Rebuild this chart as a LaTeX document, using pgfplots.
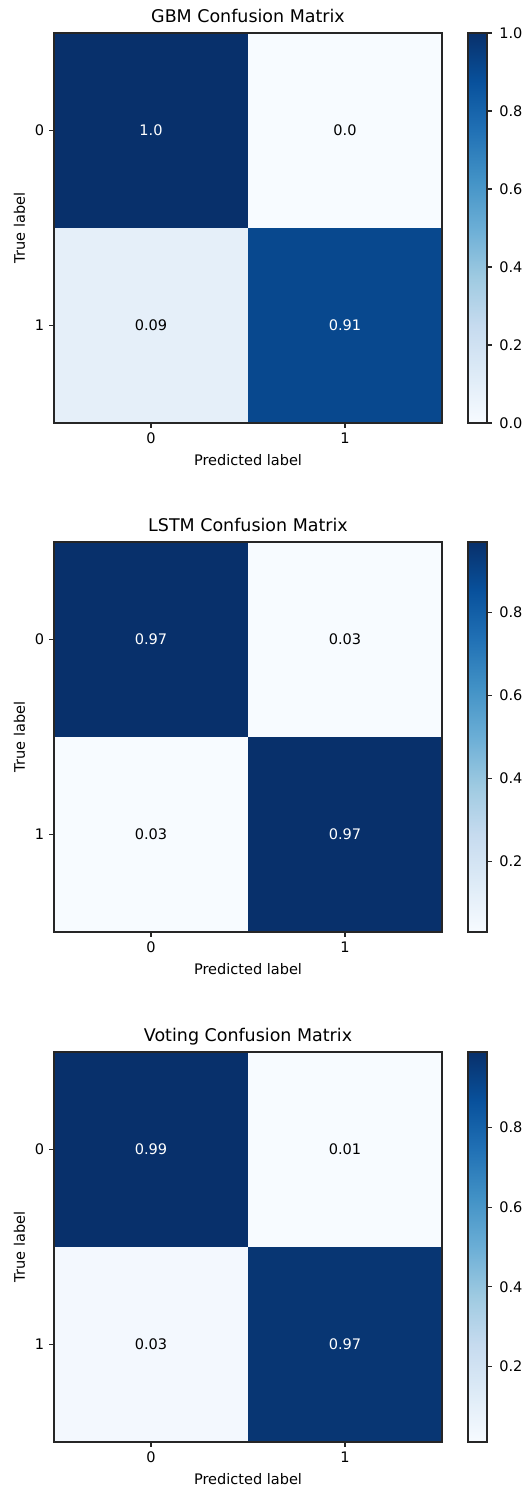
\documentclass[border=0pt]{standalone}
\usepackage{pgfplots}
\pgfplotsset{compat=1.18}
\usepackage{fontspec}
\setmainfont{DejaVu Sans}
\newcommand{\ften}{\fontsize{10.9}{13}\selectfont}
\newcommand{\ftwelve}{\fontsize{13.1}{15.5}\selectfont}
\pgfplotsset{
  colormap={mplblues}{rgb255=(247,251,255) rgb255=(222,235,247) rgb255=(198,219,239) rgb255=(158,202,225) rgb255=(107,174,214) rgb255=(66,146,198) rgb255=(33,113,181) rgb255=(8,81,156) rgb255=(8,48,107)},
  cm/.style={
    scale only axis, width=291pt, height=292.5pt,
    axis on top,
    xmin=-0.5, xmax=1.5, ymin=-0.5, ymax=1.5, y dir=reverse,
    axis line style={line width=0.8pt, black!85},
    xtick={0,1}, ytick={0,1}, xticklabels={0,1}, yticklabels={0,1},
    xtick pos=left, ytick pos=left,
    tick align=outside, major tick length=3.5pt,
    tick style={line width=0.8pt, black!85},
    xticklabel style={font=\ften, anchor=base, inner sep=0pt, yshift=-12pt},
    yticklabel style={font=\ften, anchor=east, inner sep=0pt, xshift=-3.8pt},
    title style={font=\ftwelve, at={(axis description cs:0.5,1)}, anchor=base, yshift=2pt, inner sep=0pt},
    xlabel={Predicted label}, ylabel={True label},
    xlabel style={font=\ften, at={(axis description cs:0.5,-0.109)}, anchor=base, inner sep=0pt},
    ylabel style={font=\ften, at={(axis description cs:-0.0893,0.5)}, anchor=center, inner sep=0pt},
    colormap name=mplblues,
    colorbar,
    colorbar shift/.style={xshift=19.5pt},
    colorbar style={
      at={(parent axis.north east)}, anchor=north west,
      scale only axis, width=14.25pt, height=292.5pt,
      axis on top,
      axis line style={line width=0.8pt, black!85},
      ytick pos=right, yticklabel pos=right,
      tick align=outside, major tick length=3.5pt,
      tick style={line width=0.8pt, black!85},
      yticklabel style={font=\ften, anchor=west, inner sep=0pt, xshift=5.5pt},
    },
  },
  cell/.style={draw=none, mark=none, nodes near coords, point meta=explicit symbolic,
    every node near coord/.append style={anchor=center, font=\ften, text=#1}},
}
\begin{document}
\begin{tikzpicture}
\useasboundingbox (0,0) rectangle (396.75pt,-1116pt);
% ---------- GBM ----------
\begin{axis}[cm, at={(40.5pt,-24.75pt)}, anchor=north west,
  title={GBM Confusion Matrix},
  point meta min=0, point meta max=1,
  colorbar style={ytick={0,0.2,0.4,0.6,0.8,1.0}, yticklabels={0.0,0.2,0.4,0.6,0.8,1.0}}]
\addplot[matrix plot*, mesh/cols=2, point meta=explicit] table[meta=c]{
x y c
0 0 1.0
1 0 0.0
0 1 0.09
1 1 0.91
};
\addplot[cell=white] table[meta=t]{
x y t
0 0 1.0
1 1 0.91
};
\addplot[cell=black] table[meta=t]{
x y t
1 0 0.0
0 1 0.09
};
\end{axis}
% ---------- LSTM ----------
\begin{axis}[cm, at={(40.5pt,-406.5pt)}, anchor=north west,
  title={LSTM Confusion Matrix},
  point meta min=0.03, point meta max=0.97,
  colorbar style={ytick={0.2,0.4,0.6,0.8}, yticklabels={0.2,0.4,0.6,0.8}}]
\addplot[matrix plot*, mesh/cols=2, point meta=explicit] table[meta=c]{
x y c
0 0 0.97
1 0 0.03
0 1 0.03
1 1 0.97
};
\addplot[cell=white] table[meta=t]{
x y t
0 0 0.97
1 1 0.97
};
\addplot[cell=black] table[meta=t]{
x y t
1 0 0.03
0 1 0.03
};
\end{axis}
% ---------- Voting ----------
\begin{axis}[cm, at={(40.5pt,-789pt)}, anchor=north west,
  title={Voting Confusion Matrix},
  point meta min=0.01, point meta max=0.99,
  colorbar style={ytick={0.2,0.4,0.6,0.8}, yticklabels={0.2,0.4,0.6,0.8}}]
\addplot[matrix plot*, mesh/cols=2, point meta=explicit] table[meta=c]{
x y c
0 0 0.99
1 0 0.01
0 1 0.03
1 1 0.97
};
\addplot[cell=white] table[meta=t]{
x y t
0 0 0.99
1 1 0.97
};
\addplot[cell=black] table[meta=t]{
x y t
1 0 0.01
0 1 0.03
};
\end{axis}
\end{tikzpicture}
\end{document}
